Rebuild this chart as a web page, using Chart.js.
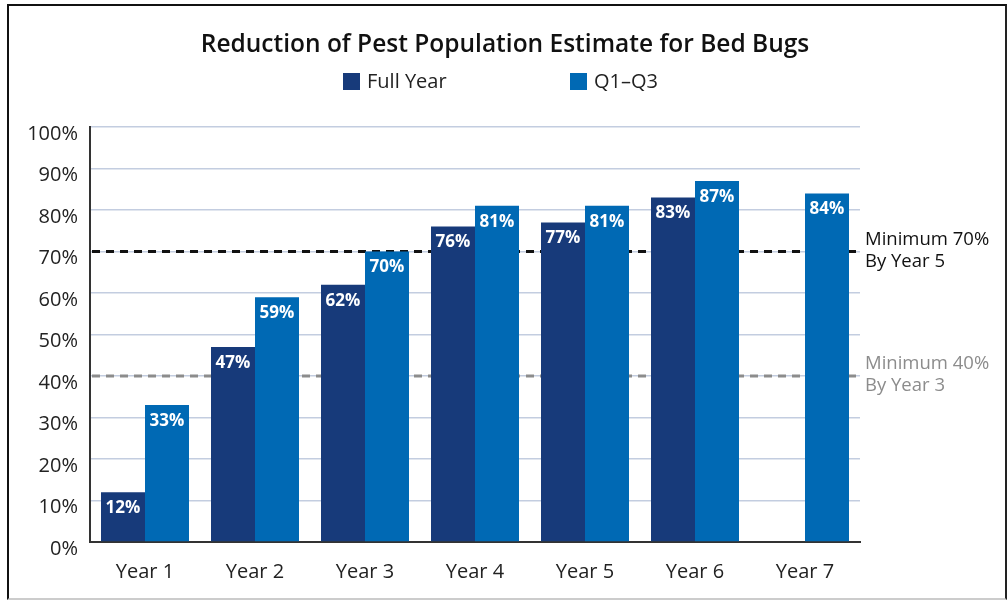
<!DOCTYPE html>
<html>
<head>
<meta charset="utf-8">
<script src="https://cdn.jsdelivr.net/npm/chart.js@4/dist/chart.umd.min.js"></script>
<style>
  html, body { margin: 0; padding: 0; background: #fff; }
  #wrap { position: relative; width: 1008px; height: 601px; }
  #frame {
    position: absolute; left: 7px; top: 4px; width: 996px; height: 592px;
    border-left: 2px solid #111; border-top: 2px solid #111; border-right: 2px solid #222;
    border-bottom: 2px solid #ccc; pointer-events: none;
  }
  canvas { position: absolute; left: 0; top: 0; }
</style>
</head>
<body>
<div id="wrap">
  <canvas id="chart" width="1008" height="601"></canvas>
  <div id="frame"></div>
</div>
<script>
const chartTitle = 'Reduction of Pest Population Estimate for Bed Bugs';
const categories = ['Year 1', 'Year 2', 'Year 3', 'Year 4', 'Year 5', 'Year 6', 'Year 7'];
const fullYear = [12, 47, 62, 76, 77, 83, null];
const q1q3 = [33, 59, 70, 81, 81, 87, 84];
const seriesNames = ['Full Year', 'Q1\u2013Q3'];
const seriesColors = ['#173a7a', '#0069b4'];
const targetValues = [70, 40];
const targetLabels = [['Minimum 70%', 'By Year 5'], ['Minimum 40%', 'By Year 3']];
const targetColors = ['#111111', '#8c8c8c'];

const FONT = '"Open Sans", Lato, sans-serif';

// dashed target lines, behind the bars
const targetLines = {
    id: 'targetLines',
    beforeDatasetsDraw(chart) {
        const { ctx, chartArea, scales } = chart;
        ctx.save();
        targetValues.forEach((v, i) => {
            const y = scales.y.getPixelForValue(v);
            ctx.strokeStyle = targetColors[i];
            ctx.lineWidth = 3;
            ctx.setLineDash([8, 6]);
            ctx.beginPath();
            ctx.moveTo(chartArea.left + 2, y);
            ctx.lineTo(chartArea.right - 2, y);
            ctx.stroke();
            ctx.setLineDash([]);
            ctx.fillStyle = targetColors[i];
            ctx.font = '18.5px ' + FONT;
            ctx.textAlign = 'left';
            ctx.textBaseline = 'middle';
            ctx.fillText(targetLabels[i][0], chartArea.right + 5, y - 12);
            ctx.fillText(targetLabels[i][1], chartArea.right + 5, y + 10);
        });
        ctx.restore();
    }
};

// value labels inside the top of each bar
const barLabels = {
    id: 'barLabels',
    afterDatasetsDraw(chart) {
        const { ctx } = chart;
        ctx.save();
        ctx.fillStyle = '#ffffff';
        ctx.font = 'bold 17px ' + FONT;
        ctx.textAlign = 'center';
        ctx.textBaseline = 'middle';
        chart.data.datasets.forEach((ds, di) => {
            chart.getDatasetMeta(di).data.forEach((bar, i) => {
                if (ds.data[i] == null) return;
                ctx.fillText(ds.data[i] + '%', bar.x, bar.y + 16);
            });
        });
        ctx.restore();
    }
};

// title and legend above the plot
const header = {
    id: 'header',
    afterDraw(chart) {
        const { ctx } = chart;
        const xs = [343, 570];
        ctx.save();
        ctx.fillStyle = '#111';
        ctx.font = '600 24.5px ' + FONT;
        ctx.textAlign = 'center';
        ctx.textBaseline = 'middle';
        ctx.fillText(chartTitle, 505, 45);
        ctx.font = '20px ' + FONT;
        ctx.textAlign = 'left';
        chart.data.datasets.forEach((ds, i) => {
            ctx.fillStyle = ds.backgroundColor;
            ctx.fillRect(xs[i], 73, 17, 17);
            ctx.fillStyle = '#222';
            ctx.fillText(ds.label, xs[i] + 24, 82);
        });
        ctx.restore();
    }
};

new Chart(document.getElementById('chart').getContext('2d'), {
    type: 'bar',
    data: {
        labels: categories,
        datasets: [
            { label: seriesNames[0], data: fullYear, backgroundColor: seriesColors[0] },
            { label: seriesNames[1], data: q1q3, backgroundColor: seriesColors[1] }
        ]
    },
    options: {
        responsive: false,
        animation: false,
        layout: { padding: { left: 0, right: 148, top: 127, bottom: 0 } },
        datasets: { bar: { categoryPercentage: 0.8, barPercentage: 1.0 } },
        plugins: {
            legend: { display: false },
            tooltip: { enabled: false },
            title: { display: false }
        },
        scales: {
            x: {
                grid: { display: false },
                border: { display: true, color: '#333', width: 2 },
                ticks: { color: '#222', font: { family: FONT, size: 20 }, padding: 10 },
                afterFit(scale) { scale.height = 59; }
            },
            y: {
                min: 0,
                max: 100,
                grid: { color: '#c3cde0', lineWidth: 1.5, drawTicks: false },
                border: { display: true, color: '#333', width: 2 },
                ticks: {
                    stepSize: 10,
                    color: '#222',
                    font: { family: FONT, size: 20 },
                    padding: 12,
                    labelOffset: 7,
                    callback: v => v + '%'
                },
                afterFit(scale) { scale.width = 90; }
            }
        }
    },
    plugins: [targetLines, barLabels, header]
});
</script>
</body>
</html>
